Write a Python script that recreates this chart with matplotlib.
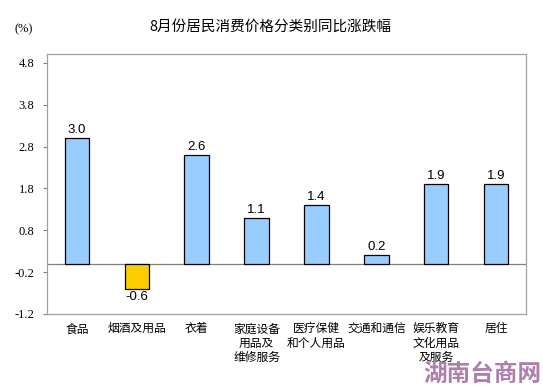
import matplotlib
matplotlib.use('Agg')
import matplotlib.pyplot as plt

plt.rcParams['font.family'] = ['Noto Sans CJK SC', 'DejaVu Sans']

# Data
CATEGORIES = ['食品', '烟酒及用品', '衣着', '家庭设备\n用品及\n维修服务', '医疗保健\n和个人用品',
              '交通和通信', '娱乐教育\n文化用品\n及服务', '居住']
VALUES = [3.0, -0.6, 2.6, 1.1, 1.4, 0.2, 1.9, 1.9]
Y_TICKS = [-1.2, -0.2, 0.8, 1.8, 2.8, 3.8, 4.8]
TITLE = '8月份居民消费价格分类别同比涨跌幅'


def main():
    fig = plt.figure(figsize=(5.43, 3.89), dpi=100)
    ax = fig.add_axes([47 / 543, 1 - 314 / 389, 479 / 543, 260 / 389])

    colors = ['#99ccff' if v >= 0 else '#ffcc00' for v in VALUES]
    x = range(len(VALUES))
    ax.bar(x, VALUES, width=0.41, color=colors, edgecolor='black', linewidth=0.9, zorder=3)
    ax.axhline(0, color='#808080', linewidth=0.9, zorder=2)

    for xi, v in zip(x, VALUES):
        if v >= 0:
            ax.text(xi, v + 0.05, f'{v:.1f}', ha='center', va='bottom', fontsize=9.5,
                    family=['Liberation Sans'])
        else:
            ax.text(xi, v - 0.05, f'{v:.1f}', ha='center', va='top', fontsize=9.5,
                    family=['Liberation Sans'])

    ax.set_xlim(-0.5, len(VALUES) - 0.5)
    ax.set_ylim(-1.2, 5.01)
    ax.set_yticks(Y_TICKS)
    ax.set_yticklabels([f'{t:.1f}' for t in Y_TICKS], fontsize=9)
    for lbl in ax.get_yticklabels():
        lbl.set_fontfamily('Liberation Serif')
    ax.set_xticks(list(x))
    ax.set_xticklabels(CATEGORIES, fontsize=8.5, linespacing=1.15, va='top')
    ax.tick_params(axis='x', length=0, pad=6)
    ax.tick_params(axis='y', length=3, color='#808080', pad=6)
    for s in ax.spines.values():
        s.set_color('#a0a0a0')
        s.set_linewidth(0.9)

    fig.text(270 / 543, 1 - 27 / 389, TITLE, ha='center', va='center', fontsize=10.5)
    fig.text(24 / 543, 1 - 29 / 389, '(%)', ha='center', va='center', fontsize=9,
             family=['Liberation Serif'])
    fig.text(482 / 543, 1 - 374 / 389, '湖南台商网', ha='center', va='center', fontsize=17,
             fontweight='bold', color='#a0689e', alpha=0.85)

    fig.savefig('out.png', dpi=100)


if __name__ == '__main__':
    main()
